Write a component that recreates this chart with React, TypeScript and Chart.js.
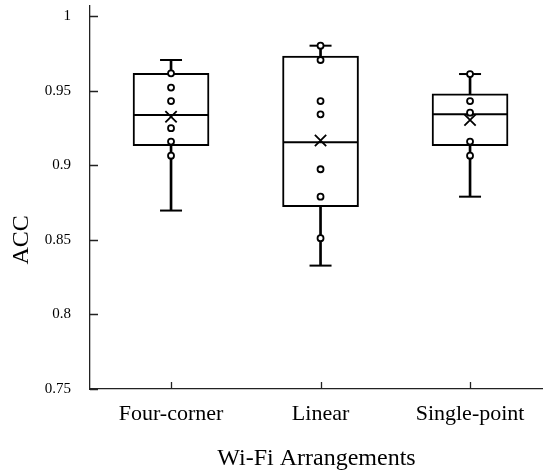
import React, { useEffect, useRef } from "react";
import { Chart, registerables } from "chart.js";

Chart.register(...registerables);

// ---- data ----
const categories = ["Four-corner", "Linear", "Single-point"];
const xPositions = [1, 2, 3];
const whiskerLow = [0.8696, 0.8327, 0.8789];
const q1 = [0.9131, 0.8722, 0.9131];
const median = [0.9337, 0.9154, 0.9341];
const q3 = [0.9616, 0.9732, 0.9479];
const whiskerHigh = [0.9705, 0.9801, 0.9611];
const mean = [0.9325, 0.9165, 0.9303];
const fourCornerPoints = [0.9616, 0.952, 0.943, 0.9248, 0.9158, 0.9064];
const linearPoints = [0.9801, 0.9705, 0.943, 0.9341, 0.8973, 0.8789, 0.8511];
const singlePointPoints = [0.9611, 0.943, 0.9352, 0.9158, 0.9064];
const yTicks = [0.75, 0.8, 0.85, 0.9, 0.95, 1];
const yTitle = "ACC";
const xTitle = "Wi-Fi Arrangements";
const yTitleCenterValue = 0.85;

const FONT = "'Liberation Serif', 'Times New Roman', serif";
const INK = "#000";
const AXIS = "#222";

const axisPlugin = {
  id: "inwardTicks",
  afterDraw(chart: any) {
    const { ctx, scales } = chart;
    const x = scales.x;
    const y = scales.y;
    ctx.save();
    ctx.strokeStyle = AXIS;
    ctx.lineWidth = 1.3;
    ctx.beginPath();
    for (const t of y.ticks) {
      const py = Math.round(y.getPixelForValue(t.value)) + 0.5;
      ctx.moveTo(x.left, py);
      ctx.lineTo(x.left + 8, py);
    }
    for (const t of x.ticks) {
      const px = Math.round(x.getPixelForValue(t.value)) + 0.5;
      ctx.moveTo(px, y.bottom);
      ctx.lineTo(px, y.bottom - 7);
    }
    ctx.stroke();
    // y axis title
    ctx.fillStyle = INK;
    ctx.font = `24px ${FONT}`;
    ctx.textAlign = "center";
    ctx.textBaseline = "middle";
    ctx.translate(22, y.getPixelForValue(yTitleCenterValue));
    ctx.rotate(-Math.PI / 2);
    ctx.fillText(yTitle, 0, 0);
    ctx.restore();
  },
};

export default function App() {
  const ref = useRef<HTMLCanvasElement | null>(null);

  useEffect(() => {
    if (!ref.current) return;
    const points = [
      ...fourCornerPoints.map((v) => ({ x: xPositions[0], y: v })),
      ...linearPoints.map((v) => ({ x: xPositions[1], y: v })),
      ...singlePointPoints.map((v) => ({ x: xPositions[2], y: v })),
    ];
    const chart = new Chart(ref.current, {
      type: "bar",
      data: {
        datasets: [
          {
            type: "scatter",
            label: "points",
            data: points,
            pointStyle: "circle",
            pointRadius: 3,
            pointBackgroundColor: "#fff",
            pointBorderColor: INK,
            pointBorderWidth: 1.8,
            order: 1,
          } as any,
          {
            type: "scatter",
            label: "mean",
            data: xPositions.map((x, i) => ({ x, y: mean[i] })),
            pointStyle: "crossRot",
            pointRadius: 8,
            pointBorderColor: INK,
            pointBorderWidth: 1.8,
            order: 2,
          } as any,
          {
            type: "scatter",
            label: "median",
            data: xPositions.map((x, i) => ({ x, y: median[i] })),
            pointStyle: "line",
            pointRadius: 37,
            pointBorderColor: INK,
            pointBorderWidth: 2,
            order: 3,
          } as any,
          {
            type: "scatter",
            label: "caps",
            data: [
              ...xPositions.map((x, i) => ({ x, y: whiskerHigh[i] })),
              ...xPositions.map((x, i) => ({ x, y: whiskerLow[i] })),
            ],
            pointStyle: "line",
            pointRadius: 11,
            pointBorderColor: INK,
            pointBorderWidth: 2,
            order: 3,
          } as any,
          {
            type: "bar",
            label: "box",
            data: xPositions.map((x, i) => ({ x, y: [q1[i], q3[i]] })),
            backgroundColor: "#fff",
            borderColor: INK,
            borderWidth: 2,
            borderSkipped: false,
            barThickness: 76,
            grouped: false,
            order: 4,
          } as any,
          {
            type: "bar",
            label: "whisker",
            data: xPositions.map((x, i) => ({ x, y: [whiskerLow[i], whiskerHigh[i]] })),
            backgroundColor: INK,
            borderWidth: 0,
            barThickness: 2,
            grouped: false,
            order: 5,
          } as any,
        ],
      },
      options: {
        animation: false,
        responsive: false,
        events: [],
        layout: { autoPadding: false, padding: { top: 6, left: 0, right: 0, bottom: 0 } },
        plugins: {
          legend: { display: false },
          tooltip: { enabled: false },
        },
        scales: {
          x: {
            type: "linear",
            offset: false,
            min: 0.458,
            max: 3.488,
            grid: { display: false, offset: false },
            border: { display: true, color: AXIS, width: 1.3 },
            afterBuildTicks: (scale: any) => {
              scale.ticks = xPositions.map((v) => ({ value: v }));
            },
            afterFit: (scale: any) => {
              scale.height = 81;
              scale.paddingLeft = 0;
              scale.paddingRight = 0;
            },
            ticks: {
              color: INK,
              padding: 4,
              autoSkip: false,
              maxRotation: 0,
              font: { family: FONT, size: 22 },
              callback: (v: any) => categories[xPositions.indexOf(Number(v))] ?? "",
            },
            title: {
              display: true,
              text: xTitle,
              color: INK,
              font: { family: FONT, size: 24, lineHeight: 0.95 },
              padding: { top: 0, bottom: 0 },
            },
          },
          y: {
            type: "linear",
            min: 0.75,
            max: 1.0067,
            grid: { display: false },
            border: { display: true, color: AXIS, width: 1.3 },
            afterBuildTicks: (scale: any) => {
              scale.ticks = yTicks.map((v) => ({ value: v }));
            },
            afterFit: (scale: any) => {
              scale.width = 90;
              scale.paddingTop = 0;
              scale.paddingBottom = 0;
            },
            ticks: {
              color: INK,
              padding: 11,
              font: { family: FONT, size: 15 },
              callback: (v: any) => String(v),
            },
          },
        },
      },
      plugins: [axisPlugin],
    });
    return () => chart.destroy();
  }, []);

  return (
    <div style={{ position: "fixed", left: 0, top: 0, width: 543, height: 470, background: "#fff" }}>
      <canvas ref={ref} width={543} height={470} />
    </div>
  );
}
